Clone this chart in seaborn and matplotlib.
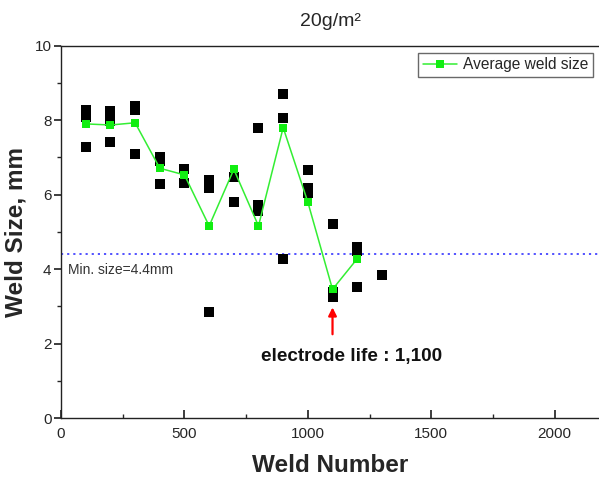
import matplotlib
matplotlib.use("Agg")
import matplotlib.pyplot as plt
from matplotlib.ticker import MultipleLocator
import numpy as np
import pandas as pd
import seaborn as sns

# individual weld measurements (weld number, size in mm)
weld_no = [100, 100, 100, 100,
           200, 200, 200,
           300, 300, 300,
           400, 400, 400,
           500, 500,
           600, 600, 600,
           700, 700,
           800, 800, 800, 800,
           900, 900, 900,
           1000, 1000, 1000,
           1100, 1100, 1100,
           1200, 1200, 1200,
           1300]
weld_size = [8.27, 8.16, 8.09, 7.29,
             8.25, 7.98, 7.41,
             8.38, 8.27, 7.09,
             7.00, 6.91, 6.29,
             6.68, 6.32,
             6.40, 6.17, 2.86,
             6.48, 5.81,
             7.78, 5.72, 5.64, 5.55,
             8.70, 8.07, 4.27,
             6.65, 6.17, 6.04,
             5.21, 3.40, 3.26,
             4.60, 4.50, 3.53,
             3.85]

# average weld size per weld number
avg_no = [100, 200, 300, 400, 500, 600, 700, 800, 900, 1000, 1100, 1200]
avg_size = [7.90, 7.87, 7.93, 6.71, 6.53, 5.16, 6.68, 5.16, 7.80, 5.80, 3.46, 4.28]

MIN_SIZE = 4.4
LIFE = 1100

sns.set_theme(style="white")
plt.rcParams['font.family'] = ['Liberation Sans', 'DejaVu Sans']

fig = plt.figure(figsize=(5.99, 4.78), dpi=100)
ax = fig.add_axes([0.102, 0.125, 0.898, 0.7795])

pts = pd.DataFrame({'weld': weld_no, 'size': weld_size})
avg = pd.DataFrame({'weld': avg_no, 'size': avg_size})

sns.scatterplot(data=pts, x='weld', y='size', ax=ax, marker='s', s=42,
                color='black', edgecolor='black', linewidth=0, zorder=3)
sns.lineplot(data=avg, x='weld', y='size', ax=ax, color='#33ee33', lw=1.1,
             marker='s', markersize=5.8, markeredgewidth=0,
             markerfacecolor='#11ee11', label='Average weld size', zorder=4)

ax.axhline(MIN_SIZE, color='#4444ff', lw=1.3, ls=(0, (1.2, 2.2)), zorder=2)
ax.text(28, 3.99, 'Min. size=4.4mm', fontsize=10, color='#333333',
        va='center', ha='left')

ax.annotate('', xy=(LIFE, 3.05), xytext=(LIFE, 2.18),
            arrowprops=dict(arrowstyle='-|>', color='red', lw=1.6,
                            mutation_scale=12))
ax.text(1178, 1.67, 'electrode life : 1,100', fontsize=13.6,
        fontweight='bold', ha='center', va='center', color='#111111')

ax.set_xlim(0, 2180)
ax.set_ylim(0, 10)
ax.xaxis.set_major_locator(MultipleLocator(500))
ax.xaxis.set_minor_locator(MultipleLocator(250))
ax.yaxis.set_major_locator(MultipleLocator(2))
ax.yaxis.set_minor_locator(MultipleLocator(1))
ax.tick_params(axis='x', which='both', direction='in', bottom=True, labelsize=11, pad=6)
ax.tick_params(axis='x', which='major', length=6)
ax.tick_params(axis='x', which='minor', length=3)
ax.tick_params(axis='y', which='both', direction='out', left=True, labelsize=11, pad=2)
ax.tick_params(axis='y', which='major', length=5)
ax.tick_params(axis='y', which='minor', length=3)

for side in ['left', 'bottom', 'top']:
    ax.spines[side].set_color('#222222')
    ax.spines[side].set_linewidth(1.0)
ax.spines['right'].set_visible(False)

ax.set_xlabel('Weld Number', fontsize=17.5, fontweight='bold', labelpad=10)
ax.set_ylabel('Weld Size, mm', fontsize=17.5, fontweight='bold', labelpad=5)
ax.set_title('20g/m²', fontsize=14, pad=14)

leg = ax.legend(loc='upper right', bbox_to_anchor=(0.989, 0.981), fontsize=11.2,
                frameon=True, fancybox=False, edgecolor='#444444',
                handlelength=2.2, borderpad=0.3, handletextpad=0.4,
                borderaxespad=0)
leg.get_frame().set_linewidth(1.0)

fig.savefig('out.png', dpi=100)
